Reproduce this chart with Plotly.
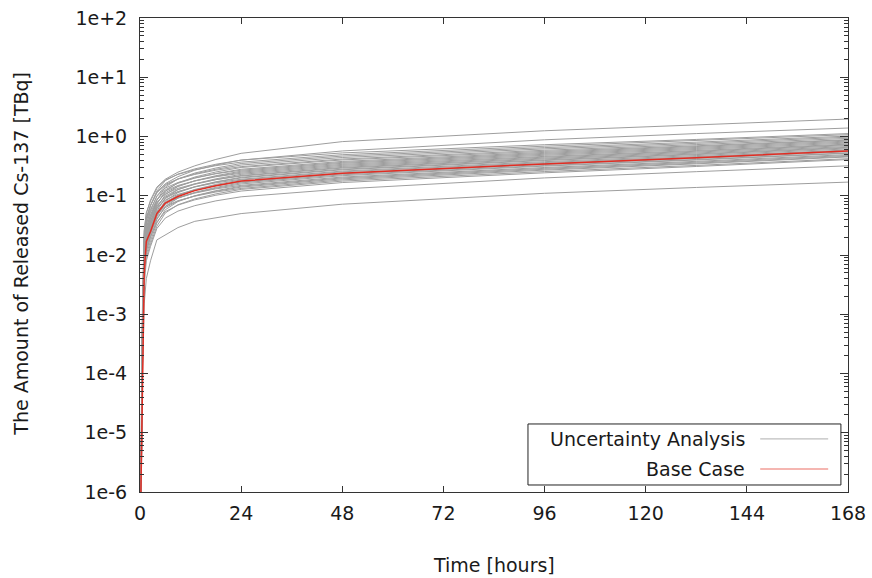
import plotly.graph_objects as go

# Time grid (hours)
hours = [0, 0.3, 0.6, 1, 1.5, 2.5, 4, 6, 9, 13, 18, 24, 48, 96, 132, 168]

# Base case (red)
base_case = [1e-7, 3e-6, 3e-4, 5e-3, 0.017, 0.025, 0.05, 0.075, 0.097, 0.122, 0.148, 0.177, 0.24, 0.345, 0.44, 0.57]

# Uncertainty analysis runs (gray)
unc_01 = [1e-7, 5e-6, 1.5e-3, 0.025, 0.05, 0.085, 0.14, 0.19, 0.25, 0.32, 0.41, 0.52, 0.82, 1.25, 1.58, 1.97]
unc_02 = [1e-7, 4e-6, 1e-3, 0.018, 0.04, 0.07, 0.115, 0.16, 0.21, 0.27, 0.33, 0.40, 0.57, 0.88, 1.12, 1.39]
unc_03 = [1e-7, 4e-6, 1.2e-3, 0.02, 0.04, 0.068, 0.12, 0.18, 0.232, 0.284, 0.34, 0.40, 0.528, 0.727, 0.892, 1.12]
unc_04 = [1e-7, 5.2e-6, 1.55e-3, 0.026, 0.0518, 0.0814, 0.133, 0.185, 0.229, 0.274, 0.322, 0.37, 0.493, 0.686, 0.849, 1.073]
unc_05 = [1e-7, 2.5e-6, 7.4e-4, 0.0123, 0.0245, 0.042, 0.084, 0.14, 0.1925, 0.2415, 0.294, 0.35, 0.467, 0.649, 0.803, 1.015]
unc_06 = [1e-7, 3.3e-6, 1e-3, 0.0165, 0.033, 0.0561, 0.099, 0.1485, 0.191, 0.234, 0.28, 0.33, 0.442, 0.618, 0.767, 0.974]
unc_07 = [1e-7, 4.3e-6, 1.3e-3, 0.0217, 0.0434, 0.0682, 0.1116, 0.155, 0.192, 0.229, 0.27, 0.31, 0.417, 0.586, 0.73, 0.93]
unc_08 = [1e-7, 2.1e-6, 6.3e-4, 0.0105, 0.021, 0.036, 0.072, 0.12, 0.165, 0.207, 0.252, 0.30, 0.402, 0.562, 0.6975, 0.885]
unc_09 = [1e-7, 2.8e-6, 8.4e-4, 0.014, 0.028, 0.0476, 0.084, 0.126, 0.1624, 0.1988, 0.238, 0.28, 0.38, 0.54, 0.677, 0.868]
unc_10 = [1e-7, 3.8e-6, 1.13e-3, 0.0189, 0.0378, 0.0594, 0.0972, 0.135, 0.167, 0.20, 0.235, 0.27, 0.366, 0.52, 0.653, 0.837]
unc_11 = [1e-7, 1.8e-6, 5.5e-4, 0.0091, 0.0182, 0.0312, 0.0624, 0.104, 0.143, 0.179, 0.218, 0.26, 0.353, 0.501, 0.628, 0.806]
unc_12 = [1e-7, 2.5e-6, 7.5e-4, 0.0125, 0.025, 0.0425, 0.075, 0.1125, 0.145, 0.1775, 0.2125, 0.25, 0.339, 0.482, 0.604, 0.775]
unc_13 = [1e-7, 3.4e-6, 1e-3, 0.0168, 0.0336, 0.0528, 0.0864, 0.12, 0.149, 0.178, 0.209, 0.24, 0.326, 0.462, 0.58, 0.744]
unc_14 = [1e-7, 1.6e-6, 4.8e-4, 0.008, 0.0161, 0.0276, 0.0552, 0.092, 0.1265, 0.1587, 0.193, 0.23, 0.313, 0.448, 0.563, 0.7245]
unc_15 = [1e-7, 2.2e-6, 6.6e-4, 0.011, 0.022, 0.0374, 0.066, 0.099, 0.1276, 0.156, 0.187, 0.22, 0.301, 0.432, 0.545, 0.704]
unc_16 = [1e-7, 3e-6, 9e-4, 0.015, 0.0301, 0.0473, 0.0774, 0.1075, 0.1333, 0.159, 0.187, 0.215, 0.293, 0.418, 0.526, 0.677]
unc_17 = [1e-7, 1.4e-6, 4.3e-4, 0.0072, 0.0144, 0.0246, 0.0492, 0.082, 0.1128, 0.1415, 0.172, 0.205, 0.281, 0.403, 0.508, 0.656]
unc_18 = [1e-7, 2e-6, 6e-4, 0.01, 0.02, 0.034, 0.06, 0.09, 0.116, 0.142, 0.17, 0.20, 0.274, 0.393, 0.495, 0.64]
unc_19 = [1e-7, 2.7e-6, 8e-4, 0.0133, 0.0266, 0.0418, 0.0684, 0.095, 0.1178, 0.1406, 0.1653, 0.19, 0.261, 0.376, 0.4765, 0.6175]
unc_20 = [1e-7, 1.3e-6, 3.9e-4, 0.0065, 0.013, 0.0222, 0.0444, 0.074, 0.1018, 0.1277, 0.1554, 0.185, 0.253, 0.363, 0.458, 0.592]
unc_21 = [1e-7, 1.8e-6, 5.3e-4, 0.0088, 0.0175, 0.0298, 0.0525, 0.0788, 0.1015, 0.1243, 0.1488, 0.175, 0.2415, 0.35, 0.444, 0.5775]
unc_22 = [1e-7, 2.4e-6, 7.1e-4, 0.0119, 0.0238, 0.0374, 0.0612, 0.085, 0.1054, 0.1258, 0.1479, 0.17, 0.234, 0.337, 0.426, 0.5525]
unc_23 = [1e-7, 1.2e-6, 3.5e-4, 0.0058, 0.0116, 0.0198, 0.0396, 0.066, 0.0908, 0.1139, 0.1386, 0.165, 0.226, 0.324, 0.409, 0.528]
unc_24 = [1e-7, 1.6e-6, 4.7e-4, 0.0079, 0.0158, 0.0269, 0.0474, 0.0711, 0.0916, 0.1122, 0.1343, 0.158, 0.218, 0.316, 0.401, 0.521]
unc_25 = [1e-7, 2.1e-6, 6.3e-4, 0.0105, 0.021, 0.033, 0.054, 0.075, 0.093, 0.111, 0.1305, 0.15, 0.207, 0.30, 0.381, 0.495]
unc_26 = [1e-7, 1e-6, 3e-4, 0.0051, 0.0102, 0.0174, 0.0348, 0.058, 0.0798, 0.10, 0.1218, 0.145, 0.20, 0.29, 0.368, 0.4785]
unc_27 = [1e-7, 1.4e-6, 4.2e-4, 0.007, 0.014, 0.0238, 0.042, 0.063, 0.0812, 0.0994, 0.119, 0.14, 0.193, 0.28, 0.355, 0.462]
unc_28 = [1e-7, 1.9e-6, 5.6e-4, 0.0093, 0.0186, 0.0293, 0.0479, 0.0665, 0.0825, 0.0984, 0.1157, 0.133, 0.185, 0.2705, 0.3455, 0.452]
unc_29 = [1e-7, 9e-7, 2.7e-4, 0.0045, 0.009, 0.0154, 0.0307, 0.0512, 0.0704, 0.0883, 0.1075, 0.128, 0.1766, 0.256, 0.325, 0.422]
unc_30 = [1e-7, 1.2e-6, 3.6e-4, 0.006, 0.012, 0.0204, 0.036, 0.054, 0.0696, 0.0852, 0.102, 0.12, 0.167, 0.244, 0.312, 0.408]
unc_31 = [1e-7, 1.5e-6, 2e-4, 3e-3, 0.008, 0.014, 0.028, 0.042, 0.055, 0.068, 0.082, 0.096, 0.13, 0.20, 0.255, 0.32]
unc_32 = [1e-7, 1e-6, 1e-4, 1.5e-3, 4e-3, 0.008, 0.018, 0.022, 0.029, 0.037, 0.043, 0.05, 0.072, 0.11, 0.138, 0.17]

uncertainty_runs = [unc_01, unc_02, unc_03, unc_04, unc_05, unc_06, unc_07, unc_08,
                    unc_09, unc_10, unc_11, unc_12, unc_13, unc_14, unc_15, unc_16,
                    unc_17, unc_18, unc_19, unc_20, unc_21, unc_22, unc_23, unc_24,
                    unc_25, unc_26, unc_27, unc_28, unc_29, unc_30, unc_31, unc_32]

x_ticks = [0, 24, 48, 72, 96, 120, 144, 168]
y_tickvals = [1e-6, 1e-5, 1e-4, 1e-3, 1e-2, 1e-1, 1e0, 1e1, 1e2]
y_ticktext = ["1e-6", "1e-5", "1e-4", "1e-3", "1e-2", "1e-1", "1e+0", "1e+1", "1e+2"]

FONT = "DejaVu Sans"
FS = 19
TXT = "#1a1a1a"
GRAY = "rgb(158,158,158)"
RED = "rgb(225,45,35)"

fig = go.Figure()
for run in uncertainty_runs:
    fig.add_trace(go.Scatter(x=hours, y=run, mode="lines",
                             line=dict(color=GRAY, width=1), showlegend=False,
                             hoverinfo="skip"))
fig.add_trace(go.Scatter(x=hours, y=base_case, mode="lines",
                         line=dict(color=RED, width=1.5), showlegend=False))

axis_color = "#333333"
fig.update_xaxes(range=[0, 168], tickvals=x_ticks, ticks="inside", ticklen=6,
                 tickcolor=axis_color, showline=True, linecolor=axis_color,
                 linewidth=1, mirror="allticks", showgrid=False, zeroline=False,
                 automargin=False, ticklabelstandoff=4,
                 tickfont=dict(family=FONT, size=FS, color=TXT))
fig.update_yaxes(type="log", range=[-6, 2], tickvals=y_tickvals, ticktext=y_ticktext,
                 ticks="inside", ticklen=8, tickcolor=axis_color, showline=True,
                 linecolor=axis_color, linewidth=1, mirror="allticks",
                 showgrid=False, zeroline=False, ticklabelstandoff=8, automargin=False,
                 minor=dict(ticks="inside", ticklen=4, tickcolor=axis_color, dtick="D1",
                            showgrid=False),
                 tickfont=dict(family=FONT, size=FS, color=TXT))

# custom legend (line sample on the right of text, gnuplot style)
shapes = [
    dict(type="rect", xref="paper", yref="paper", x0=0.548, x1=0.990, y0=0.0148, y1=0.1435,
         line=dict(color="#222", width=1), fillcolor="white", layer="above"),
    dict(type="line", xref="paper", yref="paper", x0=0.876, x1=0.972, y0=0.112, y1=0.112,
         line=dict(color="rgb(175,175,175)", width=1), layer="above"),
    dict(type="line", xref="paper", yref="paper", x0=0.876, x1=0.972, y0=0.0485, y1=0.0485,
         line=dict(color="rgb(235,110,100)", width=1.2), layer="above"),
]
annotations = [
    dict(text="Uncertainty Analysis", xref="paper", yref="paper", x=0.858, y=0.112,
         xanchor="right", yanchor="middle", showarrow=False,
         font=dict(family=FONT, size=FS, color=TXT)),
    dict(text="Base Case", xref="paper", yref="paper", x=0.858, y=0.0485,
         xanchor="right", yanchor="middle", showarrow=False,
         font=dict(family=FONT, size=FS, color=TXT)),
    dict(text="Time [hours]", xref="paper", yref="paper", x=0.5, y=-0.154,
         xanchor="center", yanchor="middle", showarrow=False,
         font=dict(family=FONT, size=FS, color=TXT)),
    dict(text="The Amount of Released Cs-137 [TBq]", xref="paper", yref="paper",
         x=-0.168, y=0.503, xanchor="center", yanchor="middle", textangle=-90,
         showarrow=False, font=dict(family=FONT, size=FS, color=TXT)),
]

fig.update_layout(width=872, height=578, margin=dict(l=140, r=24, t=18, b=86),
                  paper_bgcolor="white", plot_bgcolor="white",
                  shapes=shapes, annotations=annotations, showlegend=False)

fig.write_html("out.html", config={"displayModeBar": False},
               post_script="document.body.style.margin='0';")
